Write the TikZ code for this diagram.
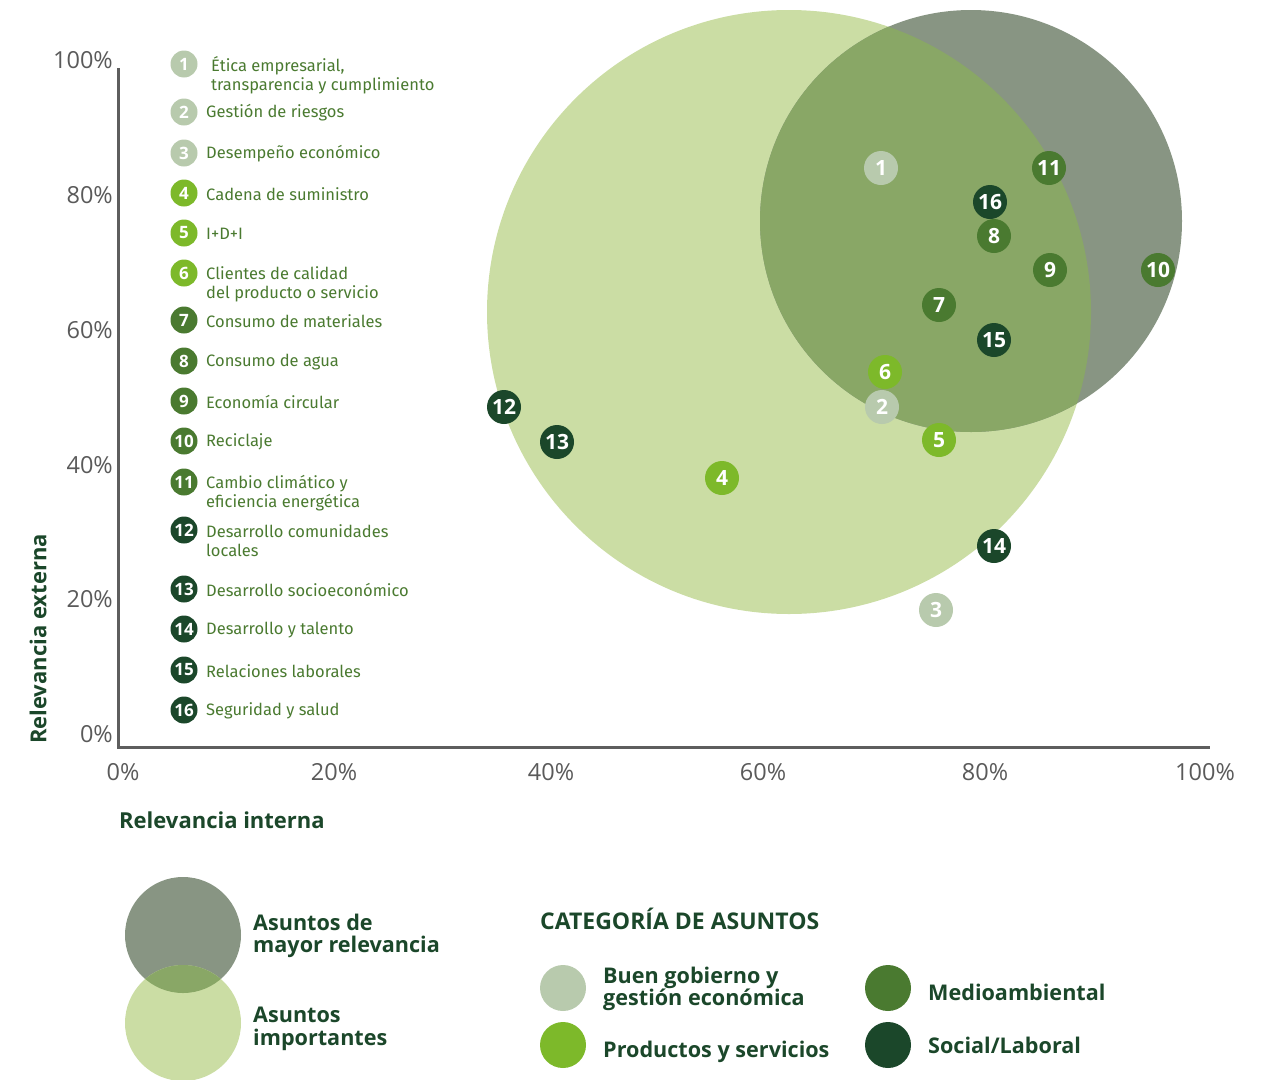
\documentclass[tikz,border=0pt]{standalone}
\usepackage{fontspec}
\setmainfont{Open Sans}
\newfontfamily\fira{Fira Sans}
\definecolor{lgreen}{HTML}{CBDDA4}
\definecolor{ggreen}{HTML}{889583}
\definecolor{ovgreen}{HTML}{89A766}
\definecolor{cgob}{HTML}{B8CAAD}
\definecolor{cprod}{HTML}{7DB92A}
\definecolor{cmed}{HTML}{4A7A30}
\definecolor{csoc}{HTML}{1B472A}
\definecolor{axgrey}{HTML}{5E5E5E}
\definecolor{tickgrey}{HTML}{5A5A5A}
\definecolor{txtgreen}{HTML}{4A7A30}
\begin{document}
\begin{tikzpicture}[x=1pt,y=-1pt,
  bub/.style={circle, minimum size=34pt, inner sep=0pt, text=white, font=\bfseries\fontsize{21}{21}\selectfont},
  lnum/.style={circle, minimum size=27pt, inner sep=0pt, text=white, font=\bfseries\fontsize{17}{17}\selectfont},
  litem/.style={anchor=west, inner sep=0pt, text=txtgreen, align=left, font=\fira\fontsize{16.5}{19}\selectfont},
  tick/.style={inner sep=0pt, text=tickgrey, font=\fontsize{23.5}{23.5}\selectfont},
  axtitle/.style={inner sep=0pt, text=csoc, font=\bfseries\fontsize{22}{22}\selectfont},
  legtxt/.style={anchor=west, inner sep=0pt, text=csoc, align=left, font=\bfseries\fontsize{21.6}{22.5}\selectfont},
  catdot/.style={circle, minimum size=46pt, inner sep=0pt},
]
\useasboundingbox (0,0) rectangle (1277,1079);
% big circles
\node[circle, minimum size=604pt, inner sep=0pt, fill=lgreen] (imp) at (789,312) {};
\node[circle, minimum size=422pt, inner sep=0pt, fill=ggreen] (may) at (971,221) {};
\begin{scope}
  \clip (789,312) circle[radius=302pt];
  \fill[ovgreen] (971,221) circle[radius=211pt];
\end{scope}
% axes
\coordinate (ytop) at (118,68);
\coordinate (orig) at (118,747);
\coordinate (xend) at (1210,747);
\draw[axgrey, line width=3pt] (ytop) -- (orig) -- (xend);
% y ticks
\node[tick, anchor=east] (y100) at (113,60) {100\%};
\node[tick, anchor=east] (y80) at (113,195) {80\%};
\node[tick, anchor=east] (y60) at (113,330) {60\%};
\node[tick, anchor=east] (y40) at (113,465) {40\%};
\node[tick, anchor=east] (y20) at (113,599) {20\%};
\node[tick, anchor=east] (y0) at (113,734) {0\%};
% x ticks
\node[tick] (x0) at (123,772) {0\%};
\node[tick] (x20) at (334,772) {20\%};
\node[tick] (x40) at (551,772) {40\%};
\node[tick] (x60) at (763,772) {60\%};
\node[tick] (x80) at (985,772) {80\%};
\node[tick] (x100) at (1205,772) {100\%};
% axis titles
\node[axtitle, anchor=west] (xt) at (119,820) {Relevancia interna};
\node[axtitle, rotate=90] (yt) at (38,639) {Relevancia externa};
% bubbles
\node[bub, fill=cgob] (b1) at (881,168) {1};
\node[bub, fill=cmed] (b11) at (1049,168) {11};
\node[bub, fill=csoc] (b16) at (990,202) {16};
\node[bub, fill=cmed] (b8) at (994,236) {8};
\node[bub, fill=cmed] (b9) at (1050,270) {9};
\node[bub, fill=cmed] (b10) at (1158,270) {10};
\node[bub, fill=cmed] (b7) at (939,305) {7};
\node[bub, fill=csoc] (b15) at (994,340) {15};
\node[bub, fill=cprod] (b6) at (885,372) {6};
\node[bub, fill=cgob] (b2) at (882,407) {2};
\node[bub, fill=cprod] (b5) at (939,440) {5};
\node[bub, fill=csoc] (b12) at (504,407) {12};
\node[bub, fill=csoc] (b13) at (557,442) {13};
\node[bub, fill=cprod] (b4) at (722,478) {4};
\node[bub, fill=csoc] (b14) at (994,546) {14};
\node[bub, fill=cgob] (b3) at (936,610) {3};
% list
\node[lnum, fill=cgob] (l1) at (184,64) {1};
\node[litem] (t1) at (211,75) {Ética empresarial,\\transparencia y cumplimiento};
\node[lnum, fill=cgob] (l2) at (184,112) {2};
\node[litem] (t2) at (206,113) {Gestión de riesgos};
\node[lnum, fill=cgob] (l3) at (184,153) {3};
\node[litem] (t3) at (206,154) {Desempeño económico};
\node[lnum, fill=cprod] (l4) at (184,193) {4};
\node[litem] (t4) at (206,194) {Cadena de suministro};
\node[lnum, fill=cprod] (l5) at (184,233) {5};
\node[litem] (t5) at (206,234) {I+D+I};
\node[lnum, fill=cprod] (l6) at (184,273) {6};
\node[litem] (t6) at (206,284) {Clientes de calidad\\del producto o servicio};
\node[lnum, fill=cmed] (l7) at (184,320) {7};
\node[litem] (t7) at (206,321) {Consumo de materiales};
\node[lnum, fill=cmed] (l8) at (184,361) {8};
\node[litem] (t8) at (206,362) {Consumo de agua};
\node[lnum, fill=cmed] (l9) at (184,401) {9};
\node[litem] (t9) at (206,402) {Economía circular};
\node[lnum, fill=cmed] (l10) at (184,441) {10};
\node[litem] (t10) at (206,442) {Reciclaje};
\node[lnum, fill=cmed] (l11) at (184,482) {11};
\node[litem] (t11) at (206,493) {Cambio climático y\\eficiencia energética};
\node[lnum, fill=csoc] (l12) at (184,530) {12};
\node[litem] (t12) at (206,541) {Desarrollo comunidades\\locales};
\node[lnum, fill=csoc] (l13) at (184,589) {13};
\node[litem] (t13) at (206,590) {Desarrollo socioeconómico};
\node[lnum, fill=csoc] (l14) at (184,629) {14};
\node[litem] (t14) at (206,630) {Desarrollo y talento};
\node[lnum, fill=csoc] (l15) at (184,670) {15};
\node[litem] (t15) at (206,671) {Relaciones laborales};
\node[lnum, fill=csoc] (l16) at (184,710) {16};
\node[litem] (t16) at (206,711) {Seguridad y salud};
% legend circles
\node[circle, minimum size=116pt, inner sep=0pt, fill=ggreen] (lgmay) at (183,935) {};
\node[circle, minimum size=116pt, inner sep=0pt, fill=lgreen] (lgimp) at (183,1023) {};
\begin{scope}
  \clip (183,1023) circle[radius=58pt];
  \fill[ovgreen] (183,935) circle[radius=58pt];
\end{scope}
\node[legtxt] (lt1) at (253,936) {Asuntos de\\mayor relevancia};
\node[legtxt] (lt2) at (253,1029) {Asuntos\\importantes};
% categories
\node[anchor=west, inner sep=0pt, text=csoc, font=\bfseries\fontsize{23}{23}\selectfont] (cat) at (540,919) {CATEGORÍA DE ASUNTOS};
\node[catdot, fill=cgob] (c1) at (563,988) {};
\node[legtxt] (ct1) at (603,989) {Buen gobierno y\\gestión económica};
\node[catdot, fill=cprod] (c2) at (563,1045) {};
\node[legtxt] (ct2) at (603,1052) {Productos y servicios};
\node[catdot, fill=cmed] (c3) at (888,988) {};
\node[legtxt] (ct3) at (928,992) {Medioambiental};
\node[catdot, fill=csoc] (c4) at (888,1045) {};
\node[legtxt] (ct4) at (928,1045) {Social/Laboral};
\end{tikzpicture}
\end{document}
